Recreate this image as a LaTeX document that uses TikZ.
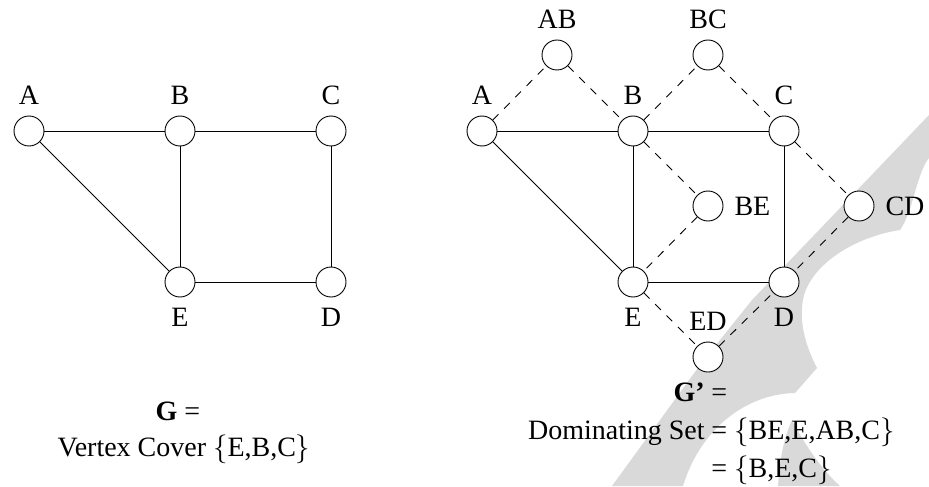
\documentclass[tikz,border=0pt]{standalone}
\usepackage{fontspec}
\setmainfont{Liberation Serif}
\definecolor{wmark}{RGB}{217,217,217}
\tikzstyle{vertex}=[circle,fill=white,draw,line width=0.45pt,minimum size=15pt,inner sep=0pt]
\tikzstyle{edge} = [draw,line width=0.45pt]
\tikzstyle{dashededge} = [draw,line width=0.45pt,dash pattern=on 4pt off 4pt]
\tikzstyle{caption} = [anchor=base,inner sep=0pt]

\begin{document}
\begin{tikzpicture}[x=0.5pt,y=-0.5pt,font=\fontsize{14}{17}\selectfont,label distance=2pt]
  \useasboundingbox (0,0) rectangle (929,486);

  % background mark
  \fill[wmark] (929,115) -- (929,158) .. controls (917,172) and (913,212) .. (900,230)
     .. controls (860,236) and (815,260) .. (804,295) .. controls (798,320) and (805,345) .. (817,368)
     -- (795,393) .. controls (745,394) and (700,430) .. (683,486) -- (612,486)
     -- (700,365) -- (752,300) -- cycle;
  \fill[wmark] (778,486) .. controls (780,455) and (785,435) .. (792,420)
     .. controls (805,445) and (822,470) .. (840,486) -- cycle;

  % graph G
  \foreach \pos/\name/\lbl/\side in {{(29,131)/lA/A/above}, {(180,131)/lB/B/above}, {(331,131)/lC/C/above},
      {(180,282)/lE/E/below}, {(331,282)/lD/D/below}}
    \node[vertex,label=\side:\lbl] (\name) at \pos {};

  \foreach \source/\dest in {lA/lB, lB/lC, lA/lE, lB/lE, lC/lD, lE/lD}
    \path[edge] (\source) -- (\dest);

  % graph G'
  \foreach \pos/\name/\lbl/\side in {{(482,131)/rA/A/above}, {(633,131)/rB/B/above}, {(784,131)/rC/C/above},
      {(633,282)/rE/E/below}, {(784,282)/rD/D/below}, {(557,55)/rAB/AB/above}, {(708,55)/rBC/BC/above},
      {(708,206)/rBE/BE/right}, {(859,206)/rCD/CD/right}, {(708,357)/rED/ED/above}}
    \node[vertex,label=\side:\lbl] (\name) at \pos {};

  \foreach \source/\dest in {rA/rB, rB/rC, rA/rE, rB/rE, rC/rD, rE/rD}
    \path[edge] (\source) -- (\dest);
  \foreach \source/\dest in {rA/rAB, rAB/rB, rB/rBC, rBC/rC, rB/rBE, rBE/rE, rC/rCD, rCD/rD, rE/rED, rED/rD}
    \path[dashededge] (\source) -- (\dest);

  % captions
  \node[caption] (gtitle) at (178,420) {\textbf{G} =};
  \node[caption] (gcover) at (184,456) {Vertex Cover $\{$E,B,C$\}$};
  \node[caption,anchor=base east] (htitle) at (705,401) {\textbf{G'}};
  \node[caption,anchor=base west] (heq) at (711,401) {=};
  \node[caption,anchor=base east] (hdom) at (705,439) {Dominating Set};
  \node[caption,anchor=base west] (hset) at (711,439) {= $\{$BE,E,AB,C$\}$};
  \node[caption,anchor=base west] (hmin) at (711,477) {= $\{$B,E,C$\}$};
\end{tikzpicture}
\end{document}
